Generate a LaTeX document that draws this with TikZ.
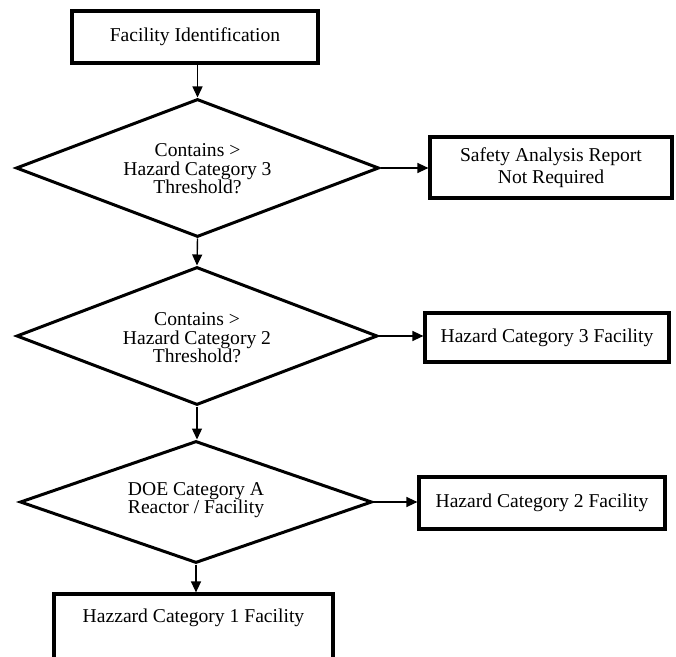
\documentclass[tikz,border=0pt]{standalone}
\usepackage{fontspec}
\setmainfont{Liberation Serif}
\usetikzlibrary{shapes.geometric,arrows.meta}
\begin{document}
\begin{tikzpicture}[x=1pt,y=1pt,
  box/.style={draw, line width=3.2pt, inner sep=0pt, align=center, font=\fontsize{19.6}{22}\selectfont},
  dia/.style={draw, diamond, line width=3pt, inner sep=0pt},
  dtxt/.style={align=center, inner sep=0pt, font=\fontsize{19.6}{18.5}\selectfont},
  arr/.style={line width=1.4pt, -{Triangle[length=11pt,width=10pt]}}]
\useasboundingbox (0,0) rectangle (676,656);
\clip (0,0) rectangle (676,656);
\fill[white] (0,0) rectangle (676,656);
% nodes
\node[box, minimum width=246, minimum height=52] (top) at (195,619) {Facility Identification};
\node[dia, minimum width=363, minimum height=138] (d1) at (197.5,488) {};
\node[dtxt] (d1t) at (197.5,487) {Contains >\\Hazard Category 3\\Threshold?};
\node[box, minimum width=242, minimum height=61] (sar) at (551,488.5) {Safety Analysis Report\\Not Required};
\node[dia, minimum width=361, minimum height=138] (d2) at (197,320) {};
\node[dtxt] (d2t) at (197,318) {Contains >\\Hazard Category 2\\Threshold?};
\node[box, minimum width=244, minimum height=49] (hc3) at (547,318.5) {Hazard Category 3 Facility};
\node[dia, minimum width=352, minimum height=122] (d3) at (196,154) {};
\node[dtxt] (d3t) at (196,156) {DOE Category A\\Reactor / Facility};
\node[box, minimum width=246, minimum height=52] (hc2) at (542,153) {Hazard Category 2 Facility};
\node[box, minimum width=279, minimum height=100] (hc1) at (193.5,12) {};
\node[box, draw=none] (hc1t) at (193.5,38) {Hazzard Category 1 Facility};
% connectors
\draw[arr] (d1.north |- top.south) -- (d1.north);
\draw[arr] (d1.east) -- (d1.east -| sar.west);
\draw[arr] (d1.south) -- (d2.north);
\draw[arr] (d2.east) -- (d2.east -| hc3.west);
\draw[arr] (d2.south) -- (d2.south |- d3.north);
\draw[arr] (d3.east) -- (d3.east -| hc2.west);
\draw[arr] (d3.south) -- (d3.south |- hc1.north);
\end{tikzpicture}
\end{document}
